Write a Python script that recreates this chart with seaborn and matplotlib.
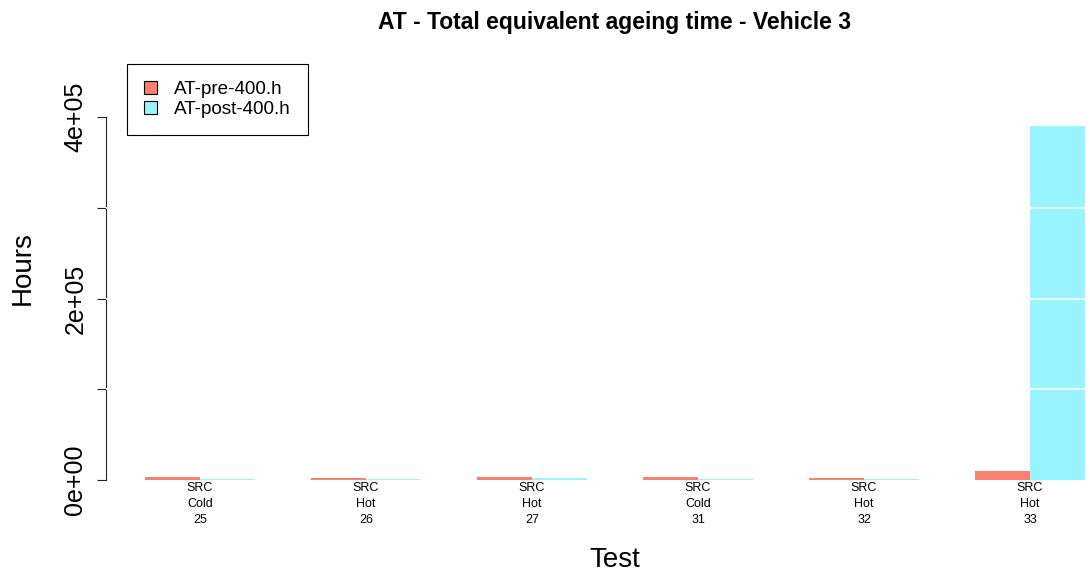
import matplotlib
matplotlib.use("Agg")
import matplotlib.pyplot as plt
from matplotlib.patches import Patch
import seaborn as sns
import pandas as pd

# Test identifiers and their conditions
tests = ["25", "26", "27", "31", "32", "33"]
cycles = ["SRC", "SRC", "SRC", "SRC", "SRC", "SRC"]
temps = ["Cold", "Hot", "Hot", "Cold", "Hot", "Hot"]

# Equivalent ageing time (hours) per test
at_pre_400 = [3300, 2200, 3300, 3300, 2500, 10300]
at_post_400 = [900, 800, 2200, 800, 1200, 390000]

series_names = ["AT-pre-400.h", "AT-post-400.h"]
series_colors = ["#FA8072", "#98F5FF"]

y_ticks = [0, 100000, 200000, 300000, 400000]
y_tick_labels = ["0e+00", "", "2e+05", "", "4e+05"]

labels = [f"{c}\n{t}\n{n}" for c, t, n in zip(cycles, temps, tests)]
df = pd.DataFrame({
    "test": labels * 2,
    "hours": at_pre_400 + at_post_400,
    "series": [series_names[0]] * len(labels) + [series_names[1]] * len(labels),
})

sns.set_style("white")
plt.rcParams["font.family"] = ["Liberation Sans", "DejaVu Sans"]
plt.rcParams["text.color"] = "black"
plt.rcParams["xtick.color"] = "black"
plt.rcParams["ytick.color"] = "black"
plt.rcParams["axes.labelcolor"] = "black"

W, H = 1090, 574
fig = plt.figure(figsize=(W / 100, H / 100), dpi=100)
ax = fig.add_axes([106 / W, 1 - 497 / H, 1 - 106 / W, (497 - 38.3) / H])

sns.barplot(data=df, x="test", y="hours", hue="series", order=labels,
            hue_order=series_names, palette=series_colors, saturation=1,
            width=0.667, gap=0, linewidth=0, legend=False, ax=ax)

# White reference lines across the plot
for yv in y_ticks[1:-1]:
    ax.axhline(yv, color="white", lw=1.2, zorder=5)

ax.set_xlim(-0.566, 5.361)
ymax = 1.2 * max(at_post_400)
ax.set_ylim(-0.04 * ymax, 1.04 * ymax)

for s in ["top", "right", "bottom"]:
    ax.spines[s].set_visible(False)
ax.spines["left"].set_bounds(0, 400000)
ax.spines["left"].set_linewidth(0.8)
ax.spines["left"].set_color("#222222")

ax.set_yticks(y_ticks)
ax.set_yticklabels(y_tick_labels, rotation=90, va="center", fontsize=18)
ax.tick_params(axis="y", direction="out", length=6.5, width=0.8,
               color="#222222", labelcolor="black", pad=7, left=True)
ax.tick_params(axis="x", length=0, pad=-11, labelsize=9, labelcolor="black")
for t in ax.get_xticklabels():
    t.set_linespacing(1.45)

ax.set_xlabel("")
ax.set_ylabel("")
fig.text(615 / W, 1 - 560 / H, "Test", ha="center", va="center", fontsize=20,
         color="black")
fig.text(23 / W, 1 - 268 / H, "Hours", ha="center", va="center",
         rotation=90, fontsize=20, color="black")
fig.text(615 / W, 1 - 22 / H, "AT - Total equivalent ageing time - Vehicle 3",
         ha="center", va="center", fontsize=16.5, fontweight="bold",
         color="black")

handles = [Patch(facecolor=c, edgecolor="black", linewidth=0.8) for c in series_colors]
leg = fig.legend(handles, series_names, loc="upper left",
                 bbox_to_anchor=(127 / W, 1 - 64 / H), borderaxespad=0,
                 fontsize=13.6, frameon=True, fancybox=False,
                 handlelength=0.7, handleheight=0.7, handletextpad=0.9,
                 labelspacing=0.15, borderpad=0.9)
leg.get_frame().set_edgecolor("black")
leg.get_frame().set_linewidth(0.8)
leg.get_frame().set_alpha(1)
for t in leg.get_texts():
    t.set_color("black")

fig.savefig("out.png", dpi=100)
